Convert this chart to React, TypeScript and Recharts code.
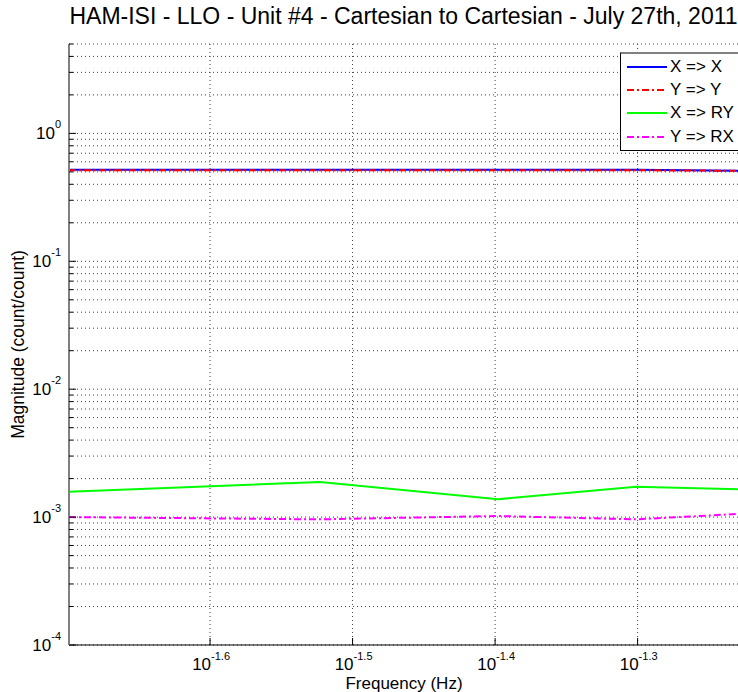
import React from 'react';
import { LineChart, Line, XAxis, YAxis, CartesianGrid, Legend } from 'recharts';

// Transfer-function magnitudes, sampled at these frequencies (Hz)
const frequencies = [0.02, 0.03, 0.04, 0.05, 0.06];
const xToX = [0.52, 0.52, 0.52, 0.52, 0.51];
const yToY = [0.515, 0.515, 0.515, 0.515, 0.51];
const xToRY = [0.00158, 0.00188, 0.00138, 0.00173, 0.00164];
const yToRX = [0.001, 0.00096, 0.00102, 0.00096, 0.00107];

// Axis ticks
const xTickExponents = [-1.6, -1.5, -1.4, -1.3];
const yDecadeExponents = [-4, -3, -2, -1, 0];
const yMinorSteps = [1, 2, 3, 4, 5, 6, 7, 8, 9];
const xDomain = [0.02, 0.06];
const yDomain = [1e-4, 5];

const TITLE = 'HAM-ISI - LLO - Unit #4 - Cartesian to Cartesian - July 27th, 2011';
const X_LABEL = 'Frequency (Hz)';
const Y_LABEL = 'Magnitude (count/count)';

const SERIES = [
  { key: 'xx', label: 'X => X', color: '#0000ff', dash: undefined as string | undefined },
  { key: 'yy', label: 'Y => Y', color: '#ff0000', dash: '7 3 2 3' },
  { key: 'xry', label: 'X => RY', color: '#00ff00', dash: undefined },
  { key: 'yrx', label: 'Y => RX', color: '#ff00ff', dash: '7 3 2 3' },
];

const data = frequencies.map((f, i) => ({
  f,
  xx: xToX[i],
  yy: yToY[i],
  xry: xToRY[i],
  yrx: yToRX[i],
}));

const xTicks = xTickExponents.map((e) => Math.pow(10, e));
const yTicks = yDecadeExponents
  .flatMap((e) => yMinorSteps.map((m) => m * Math.pow(10, e)))
  .filter((v) => v <= yDomain[1] * 1.0001);

const FONT = '"Liberation Sans", Arial, Helvetica, sans-serif';

const YTick = (props: any) => {
  const { x, y, payload } = props;
  const exp = Math.log10(payload.value);
  const major = Math.abs(exp - Math.round(exp)) < 1e-6;
  return (
    <g>
      <line x1={x} x2={x + (major ? 7 : 4)} y1={y} y2={y} stroke="#000" strokeWidth={1} />
      {major && (
        <text x={x - 8} y={y + 6} textAnchor="end" fontFamily={FONT} fontSize={17} fill="#000">
          <tspan>10</tspan>
          <tspan dy={-11} fontSize={11}>{String(Math.round(exp))}</tspan>
        </text>
      )}
    </g>
  );
};

const XTick = (props: any) => {
  const { x, y, payload } = props;
  const exp = Math.log10(payload.value).toFixed(1);
  return (
    <g>
      <line x1={x} x2={x} y1={y} y2={y - 7} stroke="#000" strokeWidth={1} />
      <text x={x + 1} y={y + 25} textAnchor="end" fontFamily={FONT} fontSize={17} fill="#000">
        10
      </text>
      <text x={x + 1} y={y + 15} textAnchor="start" fontFamily={FONT} fontSize={11} fill="#000">
        {exp}
      </text>
    </g>
  );
};

const XLabel = (props: any) => {
  const { viewBox } = props;
  return (
    <text
      x={viewBox.x + viewBox.width / 2 - 5}
      y={viewBox.y + viewBox.height - 3}
      textAnchor="middle"
      fontFamily={FONT}
      fontSize={17}
      fill="#000"
    >
      {X_LABEL}
    </text>
  );
};

const YLabel = (props: any) => {
  const { viewBox } = props;
  const cx = viewBox.x + 24;
  const cy = viewBox.y + viewBox.height / 2;
  return (
    <text
      transform={`translate(${cx},${cy}) rotate(-90)`}
      textAnchor="middle"
      fontFamily={FONT}
      fontSize={17.5}
      fill="#000"
    >
      {Y_LABEL}
    </text>
  );
};

const LegendBox = () => (
  <div
    style={{
      background: '#fff',
      borderLeft: '1px solid #000',
      borderTop: '2px solid #808080',
      borderBottom: '1px solid #000',
      padding: '1px 0 2px 6px',
      width: 140,
      fontFamily: FONT,
      fontSize: 17,
      color: '#000',
    }}
  >
    {SERIES.map((s) => (
      <div key={s.key} style={{ display: 'flex', alignItems: 'center', height: 23.3 }}>
        <svg width={40} height={10} style={{ marginRight: 3 }}>
          <line
            x1={0}
            x2={40}
            y1={5}
            y2={5}
            stroke={s.color}
            strokeWidth={2}
            strokeDasharray={s.dash}
          />
        </svg>
        <span style={{ whiteSpace: 'pre' }}>{s.label}</span>
      </div>
    ))}
  </div>
);

export default function App() {
  return (
    <div
      style={{
        position: 'absolute',
        left: 0,
        top: 0,
        width: 738,
        height: 692,
        overflow: 'hidden',
        background: '#fff',
      }}
    >
      <LineChart
        width={760}
        height={692}
        data={data}
        margin={{ top: 44, right: 11, bottom: 0, left: 0 }}
      >
        <CartesianGrid stroke="#404040" strokeDasharray="1 3" strokeWidth={1} />
        <XAxis
          dataKey="f"
          type="number"
          scale="log"
          domain={xDomain}
          allowDataOverflow
          ticks={xTicks}
          interval={0}
          height={47}
          tickSize={0}
          tickMargin={0}
          tick={<XTick />}
          axisLine={{ stroke: '#000', strokeWidth: 1 }}
          tickLine={false}
          label={<XLabel />}
        />
        <YAxis
          type="number"
          scale="log"
          domain={yDomain}
          allowDataOverflow
          ticks={yTicks}
          interval={0}
          width={69}
          tickSize={0}
          tickMargin={0}
          tick={<YTick />}
          axisLine={{ stroke: '#808080', strokeWidth: 2 }}
          tickLine={false}
          label={<YLabel />}
        />
        {SERIES.map((s) => (
          <Line
            key={s.key}
            dataKey={s.key}
            name={s.label}
            type="linear"
            stroke={s.color}
            strokeWidth={2}
            strokeDasharray={s.dash}
            dot={false}
            activeDot={false}
            isAnimationActive={false}
          />
        ))}
        <Legend
          layout="horizontal"
          align="center"
          verticalAlign="middle"
          wrapperStyle={{ left: 620, top: 52, width: 140 }}
          content={() => <LegendBox />}
        />
      </LineChart>
      <svg
        width={738}
        height={40}
        style={{ position: 'absolute', left: 0, top: 0, pointerEvents: 'none' }}
      >
        <text x={403.5} y={24} textAnchor="middle" fontFamily={FONT} fontSize={23} fill="#000">
          {TITLE}
        </text>
      </svg>
    </div>
  );
}
